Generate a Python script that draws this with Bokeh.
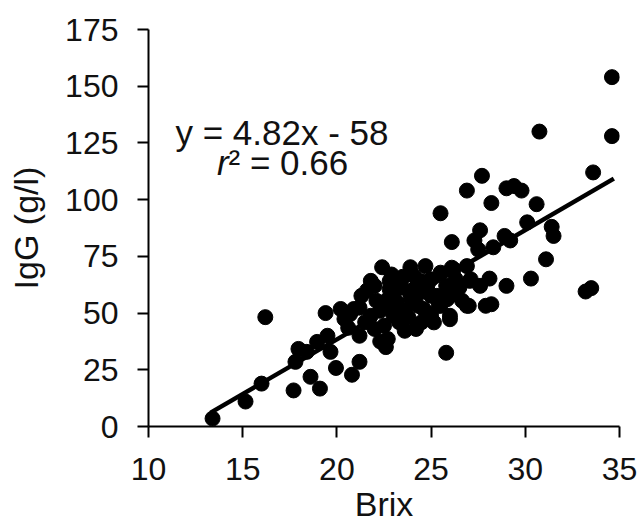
from bokeh.plotting import figure
from bokeh.models import Label, FixedTicker
from bokeh.embed import file_html
from bokeh.resources import INLINE

# Data (Brix %, IgG g/l)
brix = [13.4, 15.15, 16.0, 16.2, 17.7, 19.1, 18.6, 19.95, 20.8, 17.8,
        17.96, 18.4, 18.95, 19.5, 19.66, 21.2, 22.3, 22.6, 21.2, 20.6,
        20.4, 20.2, 19.4, 20.9, 21.3, 21.8, 22.4, 22.8, 23.4, 24.1,
        25.0, 25.5, 26.2, 26.9, 27.1, 22.1, 22.7, 23.2, 23.9, 24.4,
        25.0, 25.5, 26.0, 26.5, 24.3, 23.6, 23.0, 22.3, 21.8, 21.2,
        20.7, 22.5, 22.0, 25.5, 25.0, 26.0, 26.65, 26.9, 25.15, 23.6,
        24.2, 25.8, 23.9, 24.7, 26.1, 27.3, 22.8, 23.4, 24.1, 24.8,
        25.3, 23.0, 22.7, 24.6, 25.4, 25.85, 26.1, 27.05, 27.6, 28.1,
        29.0, 30.3, 27.0, 27.9, 28.2, 26.0, 34.6, 30.75, 34.6, 33.6,
        27.7, 26.9, 29.0, 29.4, 29.8, 28.2, 30.6, 25.5, 30.1, 31.4,
        31.5, 27.6, 27.5, 28.3, 28.9, 29.2, 31.1, 33.2, 33.5, 21.6,
        22.0, 23.0, 23.5, 24.5, 24.0, 22.5, 23.3, 24.8, 25.8, 26.3,
        21.5, 22.9, 23.8, 24.5]
igg = [3.5, 11, 18.9, 48.2, 15.9, 16.7, 21.9, 25.8, 22.8, 28.5,
       34.2, 32.9, 37.3, 40, 32.9, 28.5, 37.5, 35, 40, 43.5,
       47.4, 51.8, 50, 51.8, 57.6, 64.2, 70.2, 64.1, 61.2, 66.3,
       64.9, 67.8, 69.3, 70.7, 64.9, 55.4, 56.1, 54.6, 57.6, 59,
       57.6, 56.1, 57.6, 61.2, 53.2, 51, 48.8, 51, 48.8, 52.4,
       49.5, 44.4, 43, 53.2, 48.8, 47.3, 55.4, 53.2, 45.9, 42.2,
       43, 32.5, 70.2, 70.7, 81.3, 82, 60.5, 63.5, 60.5, 62,
       57.6, 51.8, 38.6, 51.8, 53.2, 56.1, 70, 64.2, 62, 65.2,
       62, 65.2, 53.2, 53.2, 53.9, 48.8, 154, 130, 128, 112,
       110.5, 104, 105, 106, 104, 98.5, 98, 94, 90, 88,
       84, 86.5, 78, 79, 84, 82, 73.7, 59.5, 61, 60,
       62, 58, 66, 64, 55, 53, 46, 50, 62, 65,
       46, 67, 48, 46]

slope = 4.82
intercept = -58
fit_x = [13.3, 34.7]
fit_y = [slope * v + intercept for v in fit_x]

x_ticks = [10, 15, 20, 25, 30, 35]
y_ticks = [0, 25, 50, 75, 100, 125, 150, 175]

FONT = "Liberation Sans"

p = figure(width=643, height=525, x_range=(10, 35), y_range=(0, 175),
           output_backend="svg", toolbar_location=None,
           min_border_left=148, min_border_right=24,
           min_border_top=29, min_border_bottom=97)
p.outline_line_color = None
p.xgrid.visible = False
p.ygrid.visible = False
p.background_fill_color = "white"
p.border_fill_color = "white"

p.xaxis.ticker = FixedTicker(ticks=x_ticks)
p.yaxis.ticker = FixedTicker(ticks=y_ticks)
for ax in (p.xaxis[0], p.yaxis[0]):
    ax.axis_line_width = 2
    ax.axis_line_color = "black"
    ax.major_tick_line_width = 2
    ax.major_tick_line_color = "black"
    ax.major_tick_in = 0
    ax.major_tick_out = 11
    ax.minor_tick_line_color = None
    ax.major_label_text_font = FONT
    ax.major_label_text_font_size = "32px"
    ax.major_label_text_color = "#111111"
    ax.axis_label_text_font = FONT
    ax.axis_label_text_font_size = "34px"
    ax.axis_label_text_font_style = "normal"
    ax.axis_label_text_color = "#111111"

p.xaxis.axis_label = "Brix"
p.yaxis.axis_label = "IgG (g/l)"
p.xaxis.major_label_standoff = 20
p.yaxis.major_label_standoff = 19
p.xaxis.axis_label_standoff = 2
p.yaxis.axis_label_standoff = 17

p.line(fit_x, fit_y, line_color="black", line_width=4.5)
p.scatter(brix, igg, size=15, fill_color="black", line_color="black")

FS = "35px"
eq = Label(x=11.43, y=129.8, text="y = 4.82x - 58", text_font=FONT,
           text_font_size=FS, text_color="#111111",
           text_baseline="alphabetic", text_align="left")
r_lab = Label(x=14.25, y=116.2, text="r", text_font=FONT, text_font_style="italic",
              text_font_size=FS, text_color="#111111",
              text_baseline="alphabetic", text_align="right")
r_rest = Label(x=14.25, y=116.2, text="² = 0.66", text_font=FONT,
               text_font_size=FS, text_color="#111111",
               text_baseline="alphabetic", text_align="left")
p.add_layout(eq)
p.add_layout(r_lab)
p.add_layout(r_rest)

open("out.html", "w").write(file_html(p, INLINE))
